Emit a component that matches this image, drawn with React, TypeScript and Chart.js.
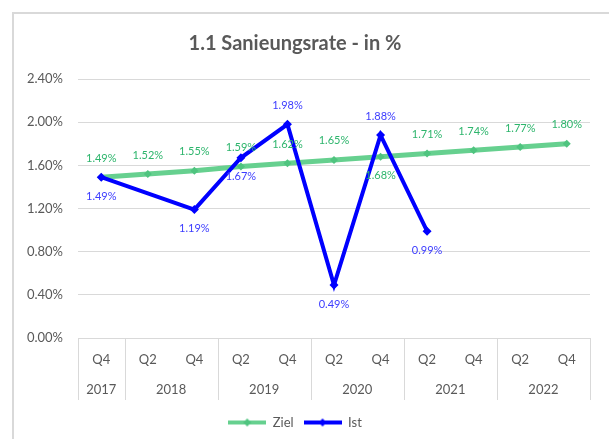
import React, { useEffect, useRef } from "react";
import { Chart, registerables } from "chart.js";

Chart.register(...registerables);

const quarters = ["Q4", "Q2", "Q4", "Q2", "Q4", "Q2", "Q4", "Q2", "Q4", "Q2", "Q4"];
const categoryYears = ["2017", "2018", "2018", "2019", "2019", "2020", "2020", "2021", "2021", "2022", "2022"];
const zielValues = [1.49, 1.52, 1.55, 1.59, 1.62, 1.65, 1.68, 1.71, 1.74, 1.77, 1.8];
const istValues: (number | null)[] = [1.49, null, 1.19, 1.67, 1.98, 0.49, 1.88, 0.99, null, null, null];
const yTicks = [0, 0.4, 0.8, 1.2, 1.6, 2.0, 2.4];

// label placement: 1 = above, -1 = below
const zielLabelSide = [1, 1, 1, 1, 1, 1, -1, 1, 1, 1, 1];
const istLabelSide = [-1, 0, -1, -1, 1, -1, 1, -1, 0, 0, 0];

const FONT = "Lato, 'Open Sans', sans-serif";
const GREEN_LINE = "#66d08f";
const GREEN_MARK = "#4fc47f";
const GREEN_TEXT = "#2db56c";
const BLUE = "#0000ff";
const BLUE_TEXT = "#3c3cff";
const GRAY_TEXT = "#595959";
const GRID = "#d9d9d9";

function legendIcon(color: string, mark: string) {
  const c = document.createElement("canvas");
  c.width = 38;
  c.height = 10;
  const ctx = c.getContext("2d")!;
  ctx.strokeStyle = color;
  ctx.lineWidth = 4;
  ctx.beginPath();
  ctx.moveTo(0, 5);
  ctx.lineTo(38, 5);
  ctx.stroke();
  ctx.fillStyle = mark;
  ctx.beginPath();
  ctx.moveTo(19, 1);
  ctx.lineTo(23, 5);
  ctx.lineTo(19, 9);
  ctx.lineTo(15, 5);
  ctx.closePath();
  ctx.fill();
  return c;
}

const valueLabels = {
  id: "valueLabels",
  afterDatasetsDraw(chart: any) {
    const ctx = chart.ctx;
    ctx.save();
    ctx.font = `11px ${FONT}`;
    ctx.textAlign = "center";
    ctx.textBaseline = "middle";
    chart.data.datasets.forEach((ds: any, di: number) => {
      const meta = chart.getDatasetMeta(di);
      const sides = di === 0 ? zielLabelSide : istLabelSide;
      ctx.fillStyle = di === 0 ? GREEN_TEXT : BLUE_TEXT;
      meta.data.forEach((el: any, i: number) => {
        const v = ds.data[i];
        if (v === null || v === undefined || !sides[i]) return;
        const y = el.y - sides[i] * 19;
        ctx.fillText(v.toFixed(2) + "%", el.x, y);
      });
    });
    ctx.restore();
  },
};

const yearAxis = {
  id: "yearAxis",
  afterDraw(chart: any) {
    const x = chart.scales.x;
    const ctx = chart.ctx;
    const top = chart.chartArea.bottom;
    const bottom = top + 62;
    const half = (x.getPixelForValue(1) - x.getPixelForValue(0)) / 2;
    ctx.save();
    ctx.strokeStyle = GRID;
    ctx.lineWidth = 1;
    ctx.fillStyle = GRAY_TEXT;
    ctx.font = `13px ${FONT}`;
    ctx.textAlign = "center";
    ctx.textBaseline = "middle";
    let start = 0;
    for (let i = 0; i <= categoryYears.length; i++) {
      if (i === categoryYears.length || categoryYears[i] !== categoryYears[start]) {
        const l = x.getPixelForValue(start) - half;
        const r = x.getPixelForValue(i - 1) + half;
        ctx.fillText(categoryYears[start], (l + r) / 2, top + 52);
        start = i;
      }
    }
    const bounds: number[] = [];
    bounds.push(x.getPixelForValue(0) - half);
    for (let i = 1; i < categoryYears.length; i++) {
      if (categoryYears[i] !== categoryYears[i - 1]) bounds.push(x.getPixelForValue(i) - half);
    }
    bounds.push(x.getPixelForValue(categoryYears.length - 1) + half);
    bounds.forEach((bx) => {
      const px = Math.round(bx) + 0.5;
      ctx.beginPath();
      ctx.moveTo(px, top);
      ctx.lineTo(px, bottom);
      ctx.stroke();
    });
    ctx.restore();
  },
};

export default function App() {
  const ref = useRef<HTMLCanvasElement>(null);
  useEffect(() => {
    const chart = new Chart(ref.current!, {
      type: "line",
      data: {
        labels: quarters,
        datasets: [
          {
            label: "Ziel",
            data: zielValues,
            borderColor: GREEN_LINE,
            backgroundColor: GREEN_MARK,
            borderWidth: 5,
            pointStyle: "rectRot",
            pointRadius: 4,
            pointBorderWidth: 0,
            pointBackgroundColor: GREEN_MARK,
            tension: 0,
            order: 2,
          },
          {
            label: "Ist",
            data: istValues,
            borderColor: BLUE,
            backgroundColor: BLUE,
            borderWidth: 4,
            pointStyle: "rectRot",
            pointRadius: 4.5,
            pointBorderWidth: 0,
            pointBackgroundColor: BLUE,
            spanGaps: true,
            tension: 0,
            order: 1,
          },
        ],
      },
      options: {
        responsive: false,
        animation: false,
        layout: { padding: { left: 0, right: 19, top: 0, bottom: 0 } },
        plugins: {
          title: {
            display: true,
            text: "1.1 Sanieungsrate - in %",
            color: GRAY_TEXT,
            font: { family: FONT, size: 20, weight: "bold", lineHeight: 1.2 },
            padding: { top: 32, bottom: 23 },
          },
          legend: {
            position: "bottom",
            labels: {
              usePointStyle: true,
              pointStyleWidth: 38,
              boxHeight: 10,
              color: GRAY_TEXT,
              font: { family: FONT, size: 13 },
              padding: 10,
              sort: (a: any, b: any) => a.datasetIndex - b.datasetIndex,
              generateLabels: (chart: any) =>
                chart.data.datasets.map((ds: any, i: number) => ({
                  text: ds.label,
                  datasetIndex: i,
                  pointStyle: legendIcon(i === 0 ? GREEN_LINE : BLUE, i === 0 ? GREEN_MARK : BLUE),
                  fillStyle: "transparent",
                  strokeStyle: "transparent",
                  lineWidth: 0,
                  fontColor: GRAY_TEXT,
                  hidden: false,
                })),
            },
          },
          tooltip: { enabled: false },
        },
        scales: {
          x: {
            offset: true,
            grid: { display: false, drawTicks: false },
            border: { display: true, color: GRID, width: 1 },
            ticks: {
              color: GRAY_TEXT,
              font: { family: FONT, size: 13 },
              padding: 14,
              maxRotation: 0,
              autoSkip: false,
            },
            afterFit: (scale: any) => {
              scale.height = 68;
            },
          },
          y: {
            min: 0,
            max: 2.4,
            afterBuildTicks: (scale: any) => {
              scale.ticks = yTicks.map((v) => ({ value: v }));
            },
            grid: { color: GRID, drawTicks: false },
            border: { display: false },
            ticks: {
              color: GRAY_TEXT,
              font: { family: FONT, size: 13 },
              padding: 15,
              callback: (v: any) => Number(v).toFixed(2) + "%",
            },
            afterFit: (scale: any) => {
              scale.width = 78;
            },
          },
        },
      },
      plugins: [valueLabels, yearAxis],
    });
    return () => chart.destroy();
  }, []);
  return (
    <div style={{ position: "absolute", left: 0, top: 0, width: 609, height: 439, background: "#fff", overflow: "hidden" }}>
      <div
        style={{
          position: "absolute",
          left: 12,
          top: 12,
          right: 0,
          bottom: 0,
          borderTop: `2px solid ${GRID}`,
          borderLeft: `2px solid ${GRID}`,
        }}
      />
      <canvas ref={ref} width={609} height={439} style={{ position: "absolute", left: 0, top: 0 }} />
    </div>
  );
}
